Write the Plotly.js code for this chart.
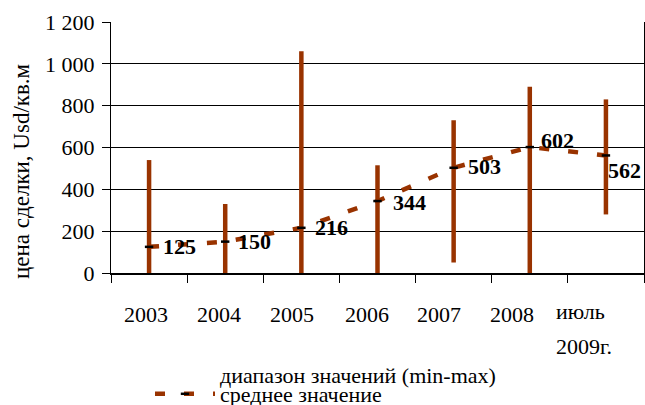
<!DOCTYPE html>
<html>
<head>
<meta charset="utf-8">
<script src="https://cdn.plot.ly/plotly-3.0.1.min.js"></script>
<style>
  html, body { margin: 0; padding: 0; background: #ffffff; }
  #chart { width: 645px; height: 405px; }
</style>
</head>
<body>
<div id="chart"></div>
<script>
// ---- data ----
const categories = ['2003', '2004', '2005', '2006', '2007', '2008', 'июль 2009г.'];
const minValues = [0, 0, 0, 0, 50, 0, 280];
const maxValues = [540, 330, 1060, 515, 730, 890, 830];
const meanValues = [125, 150, 216, 344, 503, 602, 562];
const yTickValues = [0, 200, 400, 600, 800, 1000, 1200];
const yTickLabels = ['0', '200', '400', '600', '800', '1 000', '1 200'];
const xTickLabels = ['2003', '2004', '2005', '2006', '2007', '2008', 'июль<br>2009г.'];
const seriesNames = ['диапазон значений (min-max)', 'среднее значение'];
const yTitle = 'цена сделки, Usd/кв.м';

// ---- styles ----
const RUST = '#993300';
const FONT = '"Liberation Serif", "Times New Roman", serif';
const labelShift = [[12, 0], [11, 0], [12, 0], [13, -1], [12, 1], [9, 7], [0, -15]];
const xLabelShift = [-3, -6, -9, -11, -15, -18, -52];

// category positions on the axis (index of each category)
const catPos = categories.map((c, i) => i);
const boundaries = categories.map((c, i) => i - 0.5).concat([categories.length - 0.5]);

// range (min-max) vertical lines built from the arrays
const rangeX = [], rangeY = [];
catPos.forEach((p, i) => {
  rangeX.push(p, p, null);
  rangeY.push(minValues[i], maxValues[i], null);
});

const traces = [
  {
    type: 'scatter', mode: 'lines', x: rangeX, y: rangeY,
    line: { color: RUST, width: 4.5 }, connectgaps: false,
    showlegend: false, hoverinfo: 'skip'
  },
  {
    type: 'scatter', mode: 'lines', x: [null], y: [null],
    name: seriesNames[0], line: { color: RUST, width: 0 },
    showlegend: true, legend: 'legend', hoverinfo: 'skip'
  },
  {
    type: 'scatter', mode: 'lines+markers', x: catPos, y: meanValues,
    name: seriesNames[1],
    line: { color: RUST, width: 4.5, dash: '10px,19px' },
    marker: { symbol: 'line-ew', size: 6, color: '#000', line: { color: '#000', width: 2.5 } },
    showlegend: true, legend: 'legend2', hoverinfo: 'skip'
  }
];

const annotations = [];
meanValues.forEach((v, i) => {
  annotations.push({
    xref: 'x', yref: 'y', x: catPos[i], y: v, text: String(v),
    xanchor: 'left', yanchor: 'middle', showarrow: false,
    xshift: labelShift[i][0], yshift: labelShift[i][1],
    font: { family: FONT, size: 22, color: '#000', weight: 'bold' }
  });
});
// category labels under the axis (Excel-like placement)
xTickLabels.forEach((t, i) => {
  const parts = t.split('<br>');
  parts.forEach((p, k) => {
    annotations.push({
      xref: 'x', yref: 'paper', x: catPos[i], y: 0, text: p,
      xanchor: parts.length > 1 ? 'left' : 'center', yanchor: 'middle', showarrow: false,
      xshift: xLabelShift[i], yshift: k === 0 ? (parts.length > 1 ? -38 : -41) : -73,
      font: { family: FONT, size: 22, color: '#000' }
    });
  });
});
// y axis title
annotations.push({
  xref: 'paper', yref: 'paper', x: 0, y: 0, text: yTitle, textangle: -90,
  xanchor: 'center', yanchor: 'bottom', xshift: -90, yshift: -8,
  showarrow: false, font: { family: FONT, size: 23, color: '#000' }
});

const layout = {
  width: 645, height: 405,
  margin: { l: 111, r: 1, t: 22, b: 132, autoexpand: false },
  paper_bgcolor: '#fff', plot_bgcolor: '#fff',
  font: { family: FONT, size: 22, color: '#000' },
  showlegend: true,
  xaxis: {
    type: 'linear', range: [-0.5, categories.length - 0.5],
    showticklabels: false, ticks: '',
    minor: { tickmode: 'array', tickvals: boundaries, ticks: 'outside', ticklen: 8,
             tickwidth: 1, tickcolor: '#000', showgrid: false },
    showline: true, linecolor: '#000', linewidth: 2,
    showgrid: false, zeroline: false, automargin: false,
    fixedrange: true
  },
  yaxis: {
    range: [0, 1200], tickmode: 'array', tickvals: yTickValues, ticktext: yTickLabels,
    ticks: 'outside', ticklen: 8, tickwidth: 1, tickcolor: '#000',
    showline: true, mirror: true, linecolor: '#000', linewidth: 1,
    showgrid: true, gridcolor: '#000', gridwidth: 1, zeroline: false,
    ticklabelstandoff: 3, automargin: false,
    tickfont: { family: FONT, size: 22, color: '#000' },
    fixedrange: true
  },
  legend: {
    x: 150 / 645, y: 1 - 354 / 405, xanchor: 'left', yanchor: 'top',
    xref: 'container', yref: 'container', bgcolor: 'rgba(0,0,0,0)', borderwidth: 0,
    itemwidth: 60, font: { family: FONT, size: 22, color: '#000' }
  },
  legend2: {
    x: 150 / 645, y: 1 - 373 / 405, xanchor: 'left', yanchor: 'top',
    xref: 'container', yref: 'container', bgcolor: 'rgba(0,0,0,0)', borderwidth: 0,
    itemwidth: 60, font: { family: FONT, size: 22, color: '#000' }
  },
  annotations: annotations
};

Plotly.newPlot('chart', traces, layout, { displayModeBar: false, staticPlot: true });
</script>
</body>
</html>
